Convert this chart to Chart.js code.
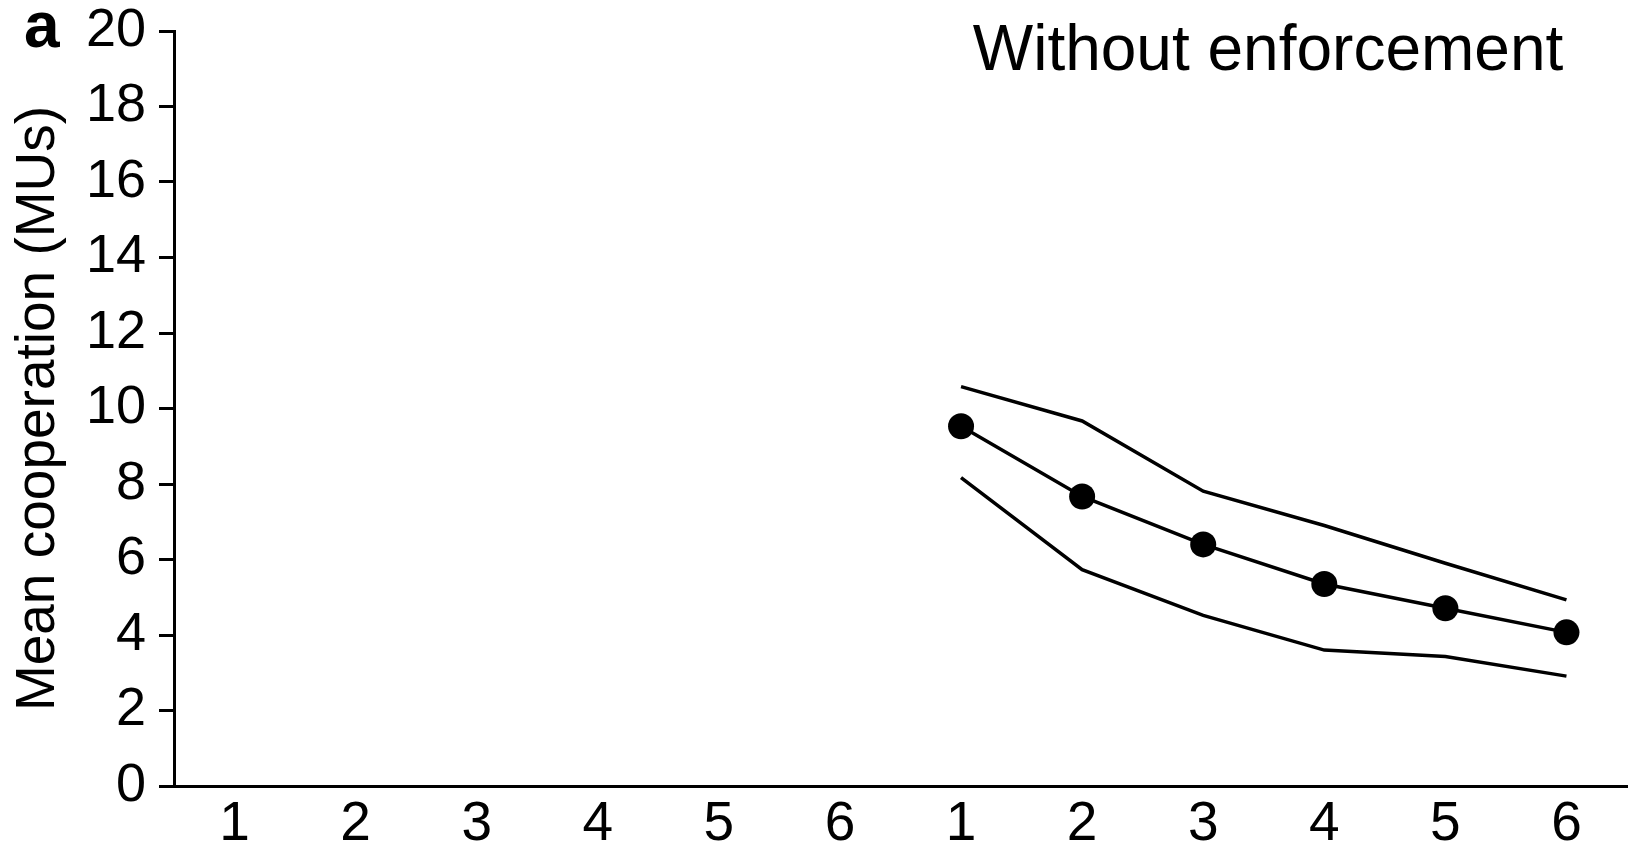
<!DOCTYPE html>
<html>
<head>
<meta charset="utf-8">
<title>Without enforcement</title>
<script src="https://cdn.jsdelivr.net/npm/chart.js@4.4.1/dist/chart.umd.min.js"></script>
<style>
  body { margin: 0; background: #fff; }
  #chart { display: block; }
</style>
</head>
<body>
<canvas id="chart" width="1640" height="845"></canvas>
<script>
/* DATA */
const periods = ["1", "2", "3", "4", "5", "6", "1", "2", "3", "4", "5", "6"];
const meanCoop = [null, null, null, null, null, null, 9.53, 7.67, 6.40, 5.35, 4.71, 4.07];
const upperBand = [null, null, null, null, null, null, 10.58, 9.67, 7.81, 6.90, 5.90, 4.93];
const lowerBand = [null, null, null, null, null, null, 8.17, 5.73, 4.52, 3.60, 3.43, 2.91];
const yMin = 0;
const yMax = 20;
const yStep = 2;

const FONT = '"Liberation Sans", Arial, Helvetica, sans-serif';
Chart.defaults.font.family = FONT;
Chart.defaults.color = "#000";

/* PANEL LETTER + HEADING */
const panelText = {
  id: "panelText",
  afterDraw(chart) {
    const ctx = chart.ctx;
    ctx.save();
    ctx.fillStyle = "#000";
    ctx.textBaseline = "alphabetic";
    ctx.font = "bold 64px " + FONT;
    ctx.textAlign = "left";
    ctx.fillText("a", 24, 47);
    ctx.font = "64px " + FONT;
    ctx.textAlign = "center";
    ctx.fillText("Without enforcement", 1268, 70);
    ctx.restore();
  }
};

/* RENDER CHART */
function renderChart() {
  const ctx = document.getElementById("chart");

  new Chart(ctx, {
    type: "line",
    data: {
      labels: periods,
      datasets: [
        {
          label: "Upper",
          data: upperBand,
          borderColor: "#000",
          borderWidth: 3.5,
          pointRadius: 0,
          tension: 0
        },
        {
          label: "Mean",
          data: meanCoop,
          borderColor: "#000",
          borderWidth: 3.5,
          pointRadius: 13,
          pointBackgroundColor: "#000",
          pointBorderWidth: 0,
          tension: 0
        },
        {
          label: "Lower",
          data: lowerBand,
          borderColor: "#000",
          borderWidth: 3.5,
          pointRadius: 0,
          tension: 0
        }
      ]
    },
    options: {
      responsive: false,
      animation: false,
      layout: { padding: { top: 31, right: 5, left: 0, bottom: 0 } },
      plugins: {
        legend: { display: false },
        tooltip: { enabled: false }
      },
      scales: {
        x: {
          offset: true,
          ticks: { color: "#000", font: { size: 55 }, padding: 6, maxRotation: 0, autoSkip: false },
          grid: { drawOnChartArea: false, drawTicks: false },
          border: { display: true, color: "#000", width: 3 },
          afterFit(s) { s.height = 59; s.paddingLeft = 0; s.paddingRight = 0; }
        },
        y: {
          min: yMin,
          max: yMax,
          ticks: { stepSize: yStep, color: "#000", font: { size: 54 }, padding: 13 },
          grid: { drawOnChartArea: false, drawTicks: true, tickLength: 15, color: "#000", lineWidth: 3 },
          border: { display: true, color: "#000", width: 3 },
          title: {
            display: true,
            text: "Mean cooperation (MUs)",
            color: "#000",
            font: { size: 55 },
            padding: { top: 6, bottom: 0 }
          },
          afterFit(s) { s.width = 174; s.paddingTop = 0; s.paddingBottom = 0; }
        }
      }
    },
    plugins: [panelText]
  });
}

/* INIT */
renderChart();
</script>
</body>
</html>
